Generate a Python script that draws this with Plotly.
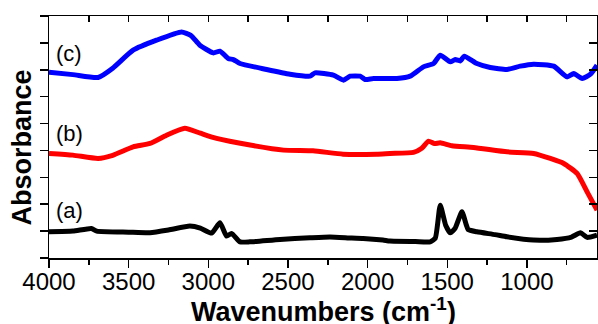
import plotly.graph_objects as go

# ---- data (wavenumber in cm^-1, absorbance offset units) ----
wn_a = [4000, 3850, 3734, 3700, 3500, 3366, 3250, 3116, 3050, 2979, 2927, 2885, 2854, 2801,
        2739, 2550, 2362, 2236, 2100, 2028, 1904, 1860, 1700, 1607, 1575, 1544, 1510, 1481,
        1450, 1408, 1380, 1369, 1314, 1200, 1125, 960, 811, 720, 664, 622, 560]
abs_a = [-0.013, 0.0, 0.05, 0.0, -0.02, -0.03, 0.02, 0.093, 0.056, -0.037, 0.154, -0.093, -0.043, -0.2,
         -0.2, -0.154, -0.125, -0.11, -0.13, -0.136, -0.167, -0.186, -0.195, -0.2, -0.13, 0.483, 0.11, -0.032,
         0.056, 0.36, 0.11, 0.03, -0.013, -0.065, -0.106, -0.167, -0.154, -0.11, -0.032, -0.117, -0.074]

wn_b = [4000, 3850, 3692, 3600, 3472, 3366, 3262, 3147, 3050, 2948, 2738, 2528, 2342, 2154,
        1942, 1860, 1712, 1660, 1618, 1580, 1544, 1471, 1335, 1125, 958, 853, 769, 685, 622, 560]
abs_b = [1.444, 1.413, 1.351, 1.41, 1.567, 1.63, 1.784, 1.914, 1.82, 1.723, 1.6, 1.506, 1.493, 1.431,
         1.431, 1.444, 1.463, 1.54, 1.673, 1.627, 1.641, 1.586, 1.556, 1.474, 1.444, 1.351, 1.258, 1.072, 0.73, 0.39]

wn_c = [4000, 3850, 3692, 3600, 3472, 3325, 3168, 3110, 3053, 2969, 2927, 2875, 2843, 2801,
        2634, 2487, 2362, 2330, 2215, 2152, 2110, 2047, 2016, 1963, 1816, 1733, 1650, 1586,
        1544, 1481, 1450, 1418, 1393, 1314, 1230, 1125, 1042, 958, 832, 748, 706, 653, 601, 560]
abs_c = [2.955, 2.91, 2.857, 3.03, 3.364, 3.55, 3.704, 3.64, 3.457, 3.314, 3.346, 3.21, 3.19, 3.117,
         3.006, 2.918, 2.881, 2.942, 2.9, 2.807, 2.881, 2.881, 2.82, 2.838, 2.838, 2.881, 3.054, 3.117,
         3.271, 3.147, 3.19, 3.165, 3.253, 3.117, 3.043, 3.006, 3.067, 3.104, 3.067, 2.868, 2.931, 2.838, 2.918, 3.085]

curve_labels = ["(a)", "(b)", "(c)"]
label_y = [0.39, 1.816, 3.303]
x_ticks = [4000, 3500, 3000, 2500, 2000, 1500, 1000]

FONT = "Arial, Liberation Sans, sans-serif"
x_range = [4000, 560]
y_range = [-0.5, 4]

fig = go.Figure()
for wn, ab, col in [(wn_a, abs_a, "black"), (wn_b, abs_b, "#ff0000"), (wn_c, abs_c, "#0000ff")]:
    fig.add_trace(go.Scatter(x=wn, y=ab, mode="lines",
                             line=dict(color=col, width=5, shape="spline", smoothing=0.5),
                             showlegend=False, hoverinfo="skip"))
# dummy trace for mirrored (inside) tick axes
fig.add_trace(go.Scatter(x=[None], y=[None], xaxis="x2", yaxis="y2", showlegend=False, hoverinfo="skip"))

for lab, ly in zip(curve_labels, label_y):
    fig.add_annotation(x=3968, y=ly, text=lab, showarrow=False, xanchor="left", yanchor="middle",
                       font=dict(family=FONT, size=22, color="black"))

fig.add_annotation(xref="paper", yref="paper", x=0.5, y=0, yshift=-52,
                   text="<b>Wavenumbers (cm<sup>-1</sup>)</b>",
                   showarrow=False, xanchor="center", yanchor="middle",
                   font=dict(family=FONT, size=27, color="black"))
fig.add_annotation(xref="paper", yref="paper", x=0, y=0.4566, xshift=-27, text="<b>Absorbance</b>",
                   showarrow=False, xanchor="center", yanchor="middle", textangle=-90,
                   font=dict(family=FONT, size=27, color="black"))

fig.update_layout(
    width=598, height=324,
    margin=dict(l=49, r=1, t=16, b=66, autoexpand=False),
    plot_bgcolor="white", paper_bgcolor="white",
    font=dict(family=FONT, color="black"),
    xaxis=dict(range=x_range, tickvals=x_ticks, ticktext=[str(v) for v in x_ticks], automargin=False,
               ticks="outside", ticklen=8, tickwidth=1.5, tickcolor="black", ticklabelstandoff=-6,
               minor=dict(dtick=250, tick0=0, ticks="outside", ticklen=5, tickwidth=1.5, tickcolor="black"),
               showline=True, linecolor="black", linewidth=1.5, mirror=True,
               showgrid=False, zeroline=False, tickfont=dict(family=FONT, size=24, color="black")),
    yaxis=dict(range=y_range, dtick=1, tick0=0, showticklabels=False, automargin=False,
               ticks="outside", ticklen=8, tickwidth=1.5, tickcolor="black",
               minor=dict(dtick=0.5, tick0=0, ticks="outside", ticklen=8, tickwidth=1.5, tickcolor="black"),
               showline=True, linecolor="black", linewidth=1.5, mirror=True,
               showgrid=False, zeroline=False),
    xaxis2=dict(range=x_range, overlaying="x", side="top", tickvals=x_ticks, showticklabels=False,
                automargin=False,
                ticks="inside", ticklen=6, tickwidth=1.5, tickcolor="black",
                minor=dict(dtick=250, tick0=0, ticks="inside", ticklen=6, tickwidth=1.5, tickcolor="black"),
                showgrid=False, zeroline=False, showline=False),
    yaxis2=dict(range=y_range, overlaying="y", side="right", dtick=1, tick0=0, showticklabels=False,
                automargin=False,
                ticks="inside", ticklen=8, tickwidth=1.5, tickcolor="black",
                minor=dict(dtick=0.5, tick0=0, ticks="inside", ticklen=8, tickwidth=1.5, tickcolor="black"),
                showgrid=False, zeroline=False, showline=False),
)

fig.write_html("out.html", config={"displayModeBar": False, "staticPlot": True},
               post_script="document.body.style.margin='0';document.body.style.overflow='hidden';")
